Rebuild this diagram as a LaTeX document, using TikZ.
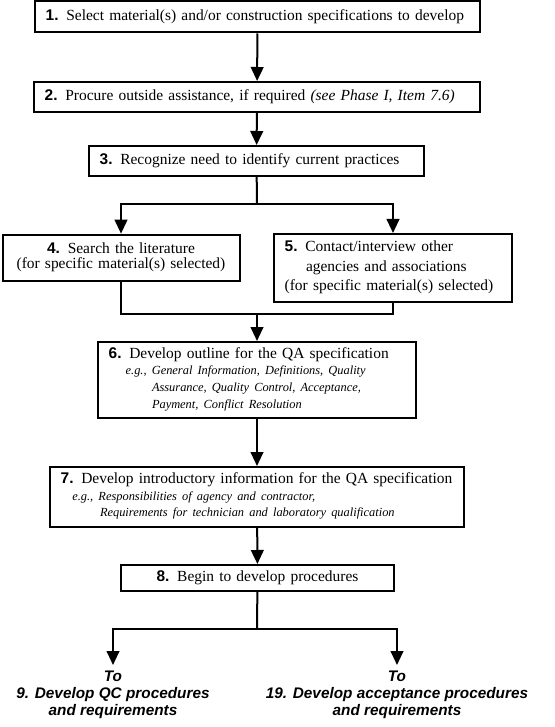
\documentclass[tikz,border=0pt]{standalone}
\usepackage{fontspec}
\setmainfont{Liberation Serif}
\newfontfamily\arialfont{Liberation Sans}
\usetikzlibrary{arrows.meta}
\newcommand{\stepno}[1]{{\arialfont\bfseries #1}}
\newcommand{\egtext}[1]{{\itshape\fontsize{9.3}{11}\selectfont #1}}

\begin{document}
\begin{tikzpicture}[x=0.75pt, y=-0.75pt, line width=1.5pt,
    every node/.style={font=\fontsize{11.6}{12}\selectfont},
    stepbox/.style={draw, rectangle, inner xsep=8pt, inner ysep=0pt, align=left},
    arr/.style={-{Triangle[length=10.5pt,width=9.5pt]}},
    totext/.style={font=\arialfont\bfseries\itshape\fontsize{11.5}{12.75}\selectfont, align=center, anchor=north}]
    \useasboundingbox (0,0) rectangle (555,727);

    % steps
    \node [stepbox, text width=317.75pt, minimum height=23.25pt] (s1) at (257.5,17) {\mbox{\stepno{1.} Select material(s) and/or construction specifications to develop}};
    \node [stepbox, text width=318.5pt, minimum height=22.5pt] (s2) at (257,97) {\mbox{\stepno{2.} Procure outside assistance, if required \textit{(see Phase I, Item 7.6)}}};
    \node [stepbox, text width=235.25pt, minimum height=22.5pt] (s3) at (256.5,161) {\mbox{\stepno{3.} Recognize need to identify current practices}};
    \node [stepbox, align=center, text width=161.75pt, minimum height=35pt] (s4) at (121,258) {\begin{tabular}{@{}c@{}}\stepno{4.} Search the literature\\[-1pt](for specific material(s) selected)\end{tabular}};
    \node [stepbox, text width=162.5pt, minimum height=51pt] (s5) at (393,268) {\begin{tabular}{@{}l@{}}\stepno{5.} Contact/interview other\\[2.6pt]\hspace*{16pt}agencies and associations\\[2.6pt](for specific material(s) selected)\end{tabular}};
    \node [stepbox, text width=222.5pt, minimum height=57pt] (s6) at (257,380) {\begin{tabular}{@{}l@{}}\stepno{6.} Develop outline for the QA specification\\[0.4pt]
        \hspace*{12.75pt}\egtext{e.g., General Information, Definitions, Quality}\\[0.4pt]
        \hspace*{32.5pt}\egtext{Assurance, Quality Control, Acceptance,}\\[0.4pt]
        \hspace*{32.5pt}\egtext{Payment, Conflict Resolution}\end{tabular}};
    \node [stepbox, text width=294.5pt, minimum height=45pt] (s7) at (257,497) {\begin{tabular}{@{}l@{}}\stepno{7.} Develop introductory information for the QA specification\\[0.4pt]
        \hspace*{8.75pt}\egtext{e.g., Responsibilities of agency and contractor,}\\[0.4pt]
        \hspace*{29.5pt}\egtext{Requirements for technician and laboratory qualification}\end{tabular}};
    \node [stepbox, align=center, text width=188.75pt, minimum height=19.5pt] (s8) at (257.5,578) {\stepno{8.} Begin to develop procedures};

    % next phases
    \node [totext] (t9) at (113,665) {To\\9. Develop QC procedures\\and requirements};
    \node [totext] (t19) at (397,665) {To\\19. Develop acceptance procedures\\and requirements};

    \coordinate (fork3) at (257,204);
    \coordinate (join6) at (257,314);
    \coordinate (fork8) at (257,629);

    \path [arr] (s1) edge (s2);
    \path [arr] (s2) edge (s3);
    \draw (s3) -- (fork3);
    \draw [arr] (fork3) -| (s4);
    \draw [arr] (fork3) -| (s5);
    \draw (s4) |- (join6) -| (s5);
    \path [arr] (join6) edge (s6);
    \path [arr] (s6) edge (s7);
    \path [arr] (s7) edge (s8);
    \draw (s8) -- (fork8);
    \draw [arr] (fork8) -| (t9);
    \draw [arr] (fork8) -| (t19);
\end{tikzpicture}
\end{document}
